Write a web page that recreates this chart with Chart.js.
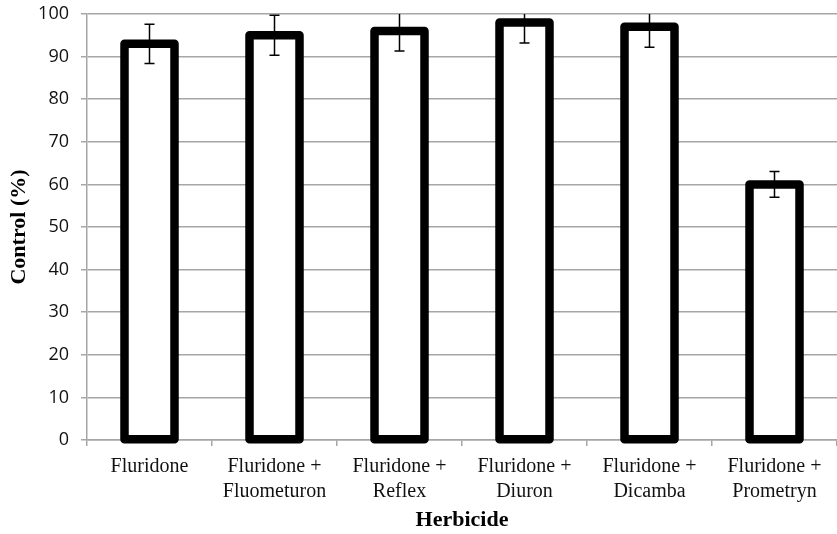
<!DOCTYPE html>
<html>
<head>
<meta charset="utf-8">
<script src="https://cdn.jsdelivr.net/npm/chart.js@4"></script>
<style>
  html, body { margin: 0; padding: 0; background: #fff; }
  #wrap { width: 837px; height: 534px; }
</style>
</head>
<body>
<div id="wrap"><canvas id="controlChart"></canvas></div>
<script>
const herbicides = [
    ['Fluridone'],
    ['Fluridone +', 'Fluometuron'],
    ['Fluridone +', 'Reflex'],
    ['Fluridone +', 'Diuron'],
    ['Fluridone +', 'Dicamba'],
    ['Fluridone +', 'Prometryn']
];
const controlPct = [93, 95, 96, 98, 97, 60];
const controlErr = [4.6, 4.7, 4.7, 4.8, 4.8, 3];
const yTicks = [0, 10, 20, 30, 40, 50, 60, 70, 80, 90, 100];

const gridGrey = '#a6a6a6';
const serif = '"Liberation Serif", "Times New Roman", serif';

//outline each bar with a stroke centred on its edges (like the office chart)
const barOutline = {
    id: 'barOutline',
    afterDatasetsDraw(chart) {
        const ctx = chart.ctx;
        const meta = chart.getDatasetMeta(0);
        ctx.save();
        ctx.strokeStyle = '#000';
        ctx.lineWidth = 8.5;
        ctx.lineJoin = 'round';
        meta.data.forEach(bar => {
            ctx.strokeRect(bar.x - bar.width / 2, bar.y, bar.width, bar.base - bar.y);
        });
        ctx.restore();
    }
};

//draw the error whiskers on top of the bars
const errorBars = {
    id: 'errorBars',
    afterDatasetsDraw(chart) {
        const ctx = chart.ctx;
        const y = chart.scales.y;
        const area = chart.chartArea;
        const meta = chart.getDatasetMeta(0);
        ctx.save();
        ctx.strokeStyle = '#000';
        ctx.lineWidth = 1.5;
        meta.data.forEach((bar, i) => {
            const hi = y.getPixelForValue(controlPct[i] + controlErr[i]);
            const lo = y.getPixelForValue(controlPct[i] - controlErr[i]);
            const top = Math.max(hi, area.top);
            ctx.beginPath();
            ctx.moveTo(bar.x, top);
            ctx.lineTo(bar.x, lo);
            ctx.moveTo(bar.x - 5, lo);
            ctx.lineTo(bar.x + 5, lo);
            if (hi >= area.top) {
                ctx.moveTo(bar.x - 5, hi);
                ctx.lineTo(bar.x + 5, hi);
            }
            ctx.stroke();
        });
        ctx.restore();
    }
};

new Chart(document.getElementById('controlChart'), {
    type: 'bar',
    data: {
        labels: herbicides,
        datasets: [{
            label: 'Control (%)',
            data: controlPct,
            backgroundColor: '#fff',
            borderWidth: 0,
            barPercentage: 0.4,
            categoryPercentage: 1
        }]
    },
    options: {
        responsive: true,
        maintainAspectRatio: false,
        animation: false,
        layout: { padding: { top: 14, right: 0, left: 0, bottom: 0 } },
        plugins: {
            legend: { display: false },
            tooltip: { enabled: false }
        },
        scales: {
            x: {
                grid: {
                    drawOnChartArea: false,
                    drawTicks: true,
                    tickLength: 6,
                    color: gridGrey,
                    lineWidth: 1.5
                },
                border: { color: gridGrey, width: 1.5 },
                ticks: {
                    color: '#111',
                    font: { family: serif, size: 20, lineHeight: 1.25 },
                    padding: 8,
                    maxRotation: 0,
                    autoSkip: false
                },
                title: {
                    display: true,
                    text: 'Herbicide',
                    color: '#000',
                    font: { family: serif, size: 22, weight: 'bold' },
                    padding: { top: 8, bottom: 0 }
                },
                afterFit(scale) {
                    scale.height = 94;
                    scale.paddingLeft = 0;
                    scale.paddingRight = 0;
                }
            },
            y: {
                min: 0,
                max: 100,
                afterBuildTicks(scale) {
                    scale.ticks = yTicks.map(v => ({ value: v }));
                },
                grid: {
                    color: gridGrey,
                    lineWidth: 1.5,
                    tickLength: 6
                },
                border: { color: gridGrey, width: 1.5 },
                ticks: {
                    color: '#111',
                    font: { family: '"Open Sans", sans-serif', size: 18 },
                    padding: 12
                },
                title: {
                    display: true,
                    text: 'Control (%)',
                    color: '#000',
                    font: { family: serif, size: 22, weight: 'bold' },
                    padding: { top: 6, bottom: 2 }
                },
                afterFit(scale) {
                    scale.width = 87;
                    scale.paddingTop = 0;
                    scale.paddingBottom = 0;
                }
            }
        }
    },
    plugins: [barOutline, errorBars]
});
</script>
</body>
</html>
